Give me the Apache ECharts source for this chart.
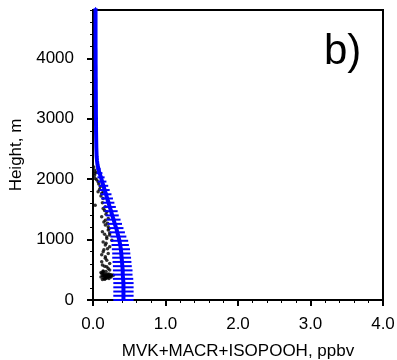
<!DOCTYPE html>
<html>
<head>
<meta charset="utf-8">
<script src="https://cdn.jsdelivr.net/npm/echarts@6/dist/echarts.min.js"></script>
<style>
  html, body { margin: 0; padding: 0; background: #fff; }
  #chart { width: 397px; height: 360px; }
</style>
</head>
<body>
<div id="chart"></div>
<script>
// Model profile levels (m) with mean mixing ratio and its spread (ppbv)
const modelHeights = [0,70,140,210,280,350,420,490,560,630,700,770,840,910,980,
  1050,1120,1190,1260,1330,1400,1470,1540,1610,1680,1750,1820,1890,1960,2030,
  2100,2170,2240,2310,2380,2450,
  2520,2590,2660,2730,2800,2870,2940,3010,3080,3150,3220,3290,3360,3430,3500,3570,3640,3710,3780,3850,3920,3990,4060,4130,4200,4270,4340,4410,4480,4550,4620,4690,4760,4830];
const modelMean = [0.42,0.42,0.42,0.42,0.42,0.415,0.41,0.41,0.405,0.40,0.395,0.39,0.385,0.375,0.365,
  0.35,0.335,0.32,0.30,0.285,0.265,0.25,0.23,0.215,0.195,0.18,0.16,0.145,0.125,0.11,
  0.09,0.075,0.062,0.055,0.05,0.048,
  0.046,0.045,0.044,0.043,0.042,0.042,0.041,0.041,0.040,0.040,0.040,0.039,0.039,0.039,0.038,0.038,0.038,0.037,0.037,0.037,0.036,0.036,0.036,0.036,0.035,0.035,0.035,0.035,0.035,0.035,0.035,0.035,0.035,0.035];
const modelSpread = [0.14,0.14,0.14,0.14,0.14,0.14,0.135,0.135,0.13,0.13,0.13,0.125,0.125,0.12,0.12,
  0.11,0.105,0.10,0.10,0.095,0.09,0.09,0.085,0.08,0.08,0.075,0.07,0.065,0.06,0.05,
  0.04,0.03,0.02,0.015,0.012,0.01,
  0.008,0.008,0.008,0.008,0.008,0.008,0.008,0.008,0.008,0.008,0.008,0.008,0.008,0.008,0.008,0.008,0.008,0.008,0.008,0.008,0.008,0.008,0.008,0.008,0.008,0.008,0.008,0.008,0.008,0.008,0.008,0.008,0.008,0.008];

// Aircraft observations: mixing ratio (ppbv) and altitude (m)
const obsValue = [0.01,0.02,0.03,0.02,0.03,0.07,0.05,0.10,0.07,0.12,0.14,0.14,0.03,0.17,0.19,0.14,0.12,0.21,0.17,0.17,0.21,0.21,0.23,0.19,
  0.13,0.23,0.19,0.26,0.17,0.23,0.14,0.21,0.17,0.12,0.23,0.19,0.23,
  0.12,0.14,0.16,0.18,0.20,0.22,0.24,0.26,0.28,0.13,0.15,0.17,0.19,0.21,0.23,0.25,0.15,0.18,0.20,0.22,0.11,0.16,0.24,0.14,
  0.04,0.08,0.09,0.11,0.13,0.16,0.18,0.15,0.20,0.22,0.16,0.14,0.18,0.20,0.15,0.12,0.17,0.19,0.13,0.16,0.21,0.14,0.18,0.11,0.15,0.20,0.17,0.13];
const obsHeight = [2200,2150,2100,2060,2011,1956,1990,1873,1790,1763,1680,1790,1570,1542,1460,1515,1377,1350,1322,1240,1212,1157,1074,1019,
  1130,1107,1046,990,909,881,798,771,716,633,606,551,496,
  440,445,430,420,425,430,420,415,410,400,395,390,385,390,385,380,360,365,370,355,380,345,395,470,
  2120,1920,1830,1720,1610,1480,1420,1290,1270,1180,1090,960,940,850,830,750,690,660,580,560,520,480,470,455,410,405,350,340];

const profileLine = modelHeights.map((h, i) => [modelMean[i], h]);
const spreadBars = modelHeights.map((h, i) => [modelMean[i] - modelSpread[i], modelMean[i] + modelSpread[i], h]);
const obsPoints = obsHeight.map((h, i) => [obsValue[i], h]);

const xTicks = [0, 1, 2, 3, 4];

const chart = echarts.init(document.getElementById('chart'), null, { renderer: 'canvas' });
const FONT = 'Liberation Sans, Arial, Helvetica, sans-serif';

chart.setOption({
  animation: false,
  backgroundColor: '#fff',
  grid: {
    left: 93, right: 14, top: 10, bottom: 60, outerBoundsMode: 'none', containLabel: false,
    show: true, borderColor: '#000', borderWidth: 2, backgroundColor: 'transparent'
  },
  xAxis: {
    type: 'value', min: xTicks[0], max: xTicks[xTicks.length - 1], interval: 1,
    name: 'MVK+MACR+ISOPOOH, ppbv', nameLocation: 'middle', nameGap: 43,
    nameTextStyle: { fontFamily: FONT, fontSize: 17, color: '#000' },
    axisLine: { show: true, onZero: false, lineStyle: { color: '#000', width: 2 } },
    axisTick: { show: true, inside: false, length: 6, lineStyle: { color: '#000', width: 2 } },
    minorTick: { show: true, splitNumber: 5, length: 3, lineStyle: { color: '#000', width: 1 } },
    axisLabel: { fontFamily: FONT, fontSize: 17, color: '#000', margin: 16, formatter: v => v.toFixed(1) },
    splitLine: { show: false }
  },
  yAxis: [
    {
      type: 'value', min: 0, max: 4800, interval: 1000,
      name: 'Height, m', nameLocation: 'middle', nameGap: 68, nameRotate: 90,
      nameTextStyle: { fontFamily: FONT, fontSize: 17, color: '#000' },
      axisLine: { show: true, onZero: false, lineStyle: { color: '#000', width: 2 } },
      axisTick: { show: true, inside: false, length: 6, lineStyle: { color: '#000', width: 2 } },
      axisLabel: { fontFamily: FONT, fontSize: 17, color: '#000', margin: 19, showMaxLabel: false, formatter: v => String(v) },
      splitLine: { show: false }
    },
    {
      type: 'value', min: 0, max: 4800, interval: 200, position: 'left',
      axisLine: { show: false },
      axisTick: { show: true, inside: false, length: 3, lineStyle: { color: '#000', width: 1 } },
      axisLabel: { show: false },
      splitLine: { show: false }
    }
  ],
  series: [
    {
      type: 'scatter', data: obsPoints, symbol: 'circle', symbolSize: 3.5,
      itemStyle: { color: '#000' }, z: 2
    },
    {
      type: 'custom', data: spreadBars, z: 3,
      renderItem: (params, api) => {
        const a = api.coord([api.value(0), api.value(2)]);
        const b = api.coord([api.value(1), api.value(2)]);
        return {
          type: 'line',
          shape: { x1: a[0], y1: a[1], x2: b[0], y2: b[1] },
          style: { stroke: '#0000ff', lineWidth: 2 }
        };
      }
    },
    {
      type: 'line', data: profileLine, showSymbol: false, z: 4,
      lineStyle: { color: '#0000ff', width: 4 }
    }
  ],
  graphic: [
    { type: 'text', left: 324, top: 31, style: { text: 'b)', font: '42px ' + FONT, fill: '#000' } }
  ]
});
</script>
</body>
</html>
